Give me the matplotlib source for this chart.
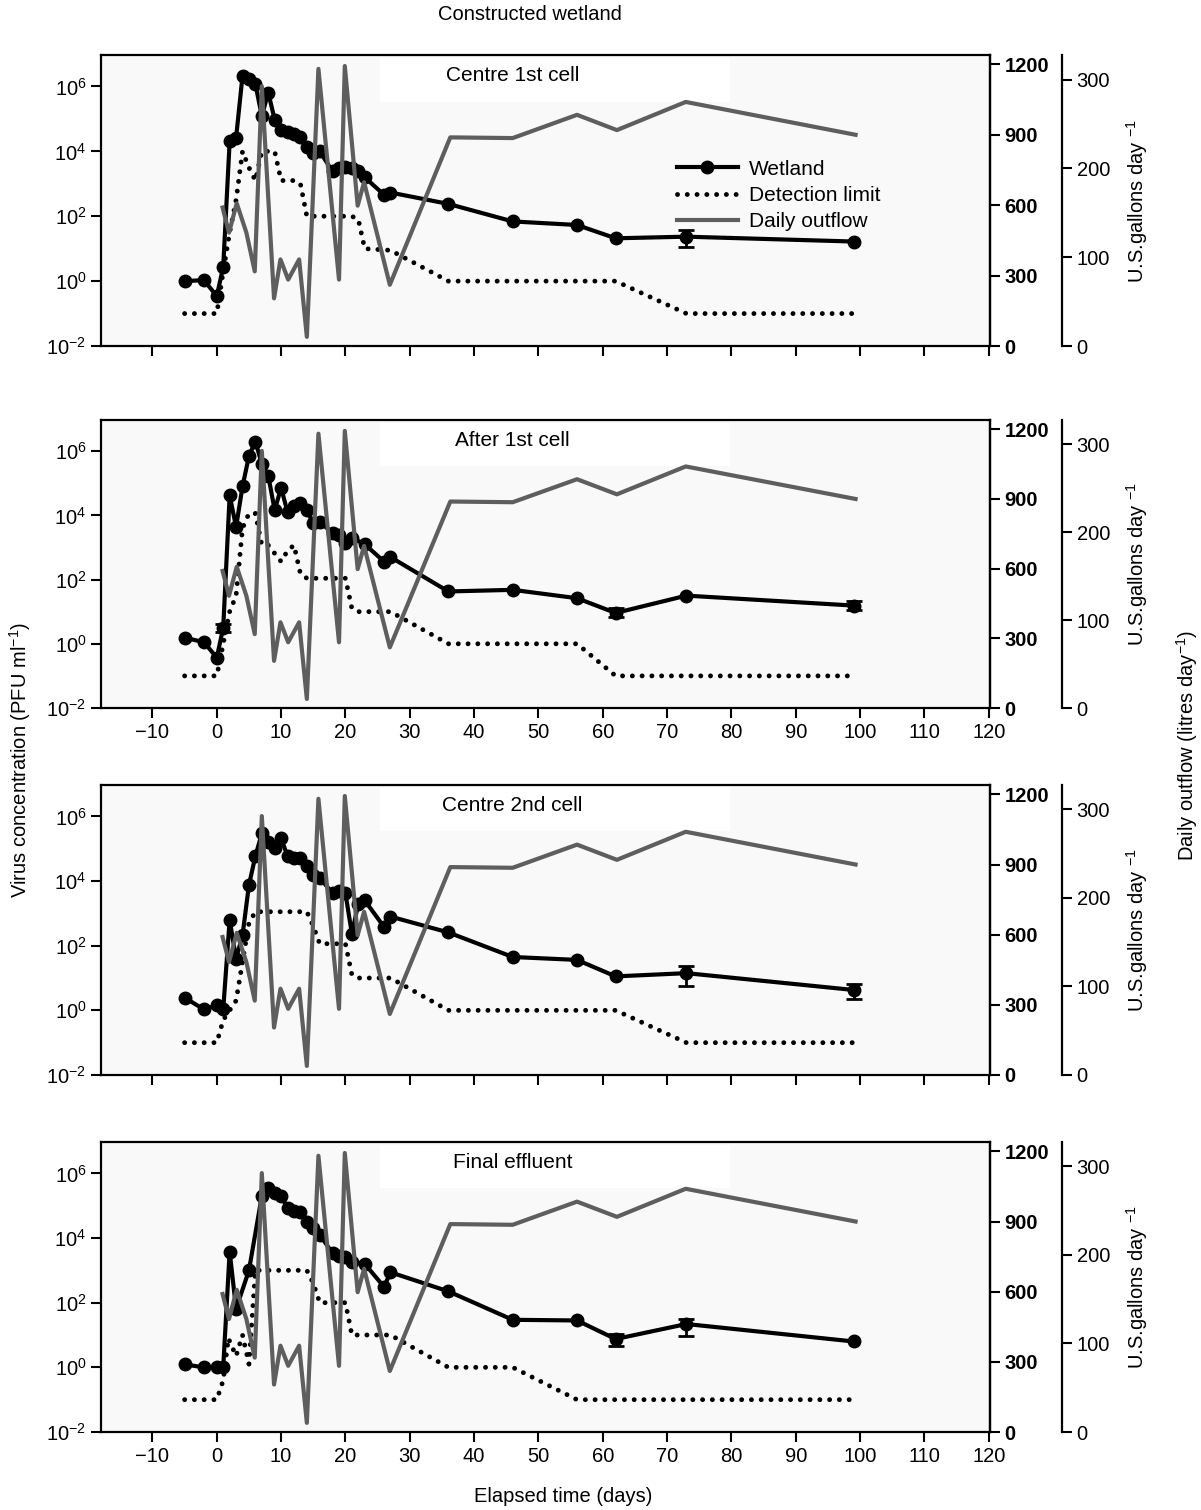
import matplotlib.pyplot as plt
from matplotlib.lines import Line2D
from matplotlib.patches import Rectangle
from matplotlib.ticker import FixedLocator, NullLocator
import numpy as np

plt.rcParams['font.family'] = ['Liberation Sans', 'DejaVu Sans']
plt.rcParams['mathtext.fontset'] = 'custom'
plt.rcParams['mathtext.rm'] = 'Liberation Sans'
plt.rcParams['mathtext.it'] = 'Liberation Sans:italic'
plt.rcParams['mathtext.bf'] = 'Liberation Sans:bold'

# ---- data (log10 PFU/ml for virus, litres/day for outflow) ----
panel_names = ['Centre 1st cell', 'After 1st cell', 'Centre 2nd cell', 'Final effluent']

flow_days = [0.9, 1.9, 3.1, 4.6, 5.9, 7.0, 8.9, 9.9, 11.1, 12.8, 14.0, 15.8,
             19.0, 19.9, 21.9, 22.9, 26.9, 36.3, 46, 56, 62.2, 72.9, 99.3]
flow_litres = [590, 483, 608, 483, 318, 1107, 203, 369, 283, 369, 39, 1181,
               283, 1193, 598, 698, 261, 889, 886, 985, 920, 1040, 900]

days_1 = [-5, -2, 0, 1, 2, 3, 4, 5, 6, 7, 8, 9, 10, 11, 12, 13, 14, 15, 16,
          18, 19, 20, 21, 22, 23, 26, 27, 36, 46, 56, 62, 73, 99]
log_1 = [0.0, 0.03, -0.46, 0.44, 4.31, 4.42, 6.33, 6.24, 6.07, 5.09, 5.81, 4.98,
         4.67, 4.59, 4.55, 4.45, 4.14, 3.96, 4.0, 3.38, 3.5, 3.52, 3.5, 3.4, 3.2,
         2.66, 2.73, 2.38, 1.84, 1.73, 1.32, 1.37, 1.22]

days_2 = [-5, -2, 0, 1, 2, 3, 4, 5, 6, 7, 8, 9, 10, 11, 12, 13, 14, 15, 16,
          18, 19, 20, 21, 23, 26, 27, 36, 46, 56, 62, 73, 99]
log_2 = [0.19, 0.05, -0.43, 0.5, 4.62, 3.64, 4.9, 5.85, 6.3, 5.6, 5.24, 4.16,
         4.86, 4.1, 4.3, 4.37, 4.16, 3.75, 3.8, 3.45, 3.4, 3.13, 3.3, 3.1,
         2.56, 2.7, 1.63, 1.68, 1.42, 0.96, 1.5, 1.19]

days_3 = [-5, -2, 0, 1, 2, 3, 4, 5, 6, 7, 8, 9, 10, 11, 12, 13, 14, 15, 16,
          18, 19, 20, 21, 22, 23, 26, 27, 36, 46, 56, 62, 73, 99]
log_3 = [0.39, 0.03, 0.15, 0.03, 2.8, 1.6, 2.32, 3.88, 4.77, 5.47, 5.2, 5.03,
         5.32, 4.77, 4.72, 4.7, 4.45, 4.2, 4.1, 3.62, 3.7, 3.62, 2.37, 3.3, 3.4,
         2.58, 2.9, 2.41, 1.65, 1.56, 1.05, 1.15, 0.63]

days_4 = [-5, -2, 0, 1, 2, 3, 5, 7, 8, 9, 10, 11, 12, 13, 14, 15, 16,
          18, 19, 20, 21, 23, 26, 27, 36, 46, 56, 62, 73, 99]
log_4 = [0.09, 0.0, 0.0, 0.0, 3.58, 1.81, 3.0, 5.3, 5.56, 5.4, 5.3, 4.94,
         4.85, 4.8, 4.5, 4.3, 4.1, 3.53, 3.45, 3.4, 3.27, 3.2, 2.49, 2.94,
         2.35, 1.47, 1.45, 0.875, 1.34, 0.8]

dl_days_1 = [-5, 0, 1, 2, 3, 4, 5, 6, 7, 9, 10, 12, 13, 14, 21, 22, 23, 27, 36, 62, 73, 99]
dl_log_1 = [-1, -1, 0.3, 1.5, 2.5, 4.0, 3.5, 3.1, 4.0, 4.0, 3.1, 3.1, 3.0, 2.0,
            2.0, 1.9, 1.0, 0.95, 0, 0, -1, -1]

dl_days_2 = [-5, 0, 1, 2, 3, 4, 5, 6, 7, 8, 10, 11, 12, 13, 14, 20, 21, 22, 27, 36, 56, 62, 99]
dl_log_2 = [-1, -1, 0.0, 1.0, 1.5, 3.6, 4.06, 4.06, 3.07, 3.07, 2.56, 2.9, 3.07,
            2.18, 2.04, 2.04, 1.1, 1.0, 1.0, 0, 0, -1, -1]

dl_days_3 = [-5, 0, 1, 2, 3, 4, 5, 6, 14, 15, 16, 20, 21, 22, 27, 36, 62, 73, 99]
dl_log_3 = [-1, -1, -0.3, 0.0, 0.3, 1.5, 2.7, 3.05, 3.05, 2.6, 2.06, 2.06, 1.1,
            1.0, 1.0, 0, 0, -1, -1]

dl_days_4 = [-5, 0, 1, 1.8, 3, 4, 5, 6, 14, 15, 16, 20, 21, 27, 36, 46, 56, 99]
dl_log_4 = [-1, -1, -0.4, 0.9, 0.35, 1.0, 0.1, 3.0, 3.0, 2.6, 2.0, 2.0, 1.0,
            1.0, 0, 0, -1, -1]

# error bars: day, low, high (log10)
err_days_1, err_lo_1, err_hi_1 = [73], [1.06], [1.58]
err_days_2, err_lo_2, err_hi_2 = [1, 62, 99], [0.38, 0.82, 1.05], [0.62, 1.1, 1.33]
err_days_3, err_lo_3, err_hi_3 = [73, 99], [0.74, 0.34], [1.37, 0.81]
err_days_4, err_lo_4, err_hi_4 = [62, 73], [0.67, 0.98], [1.03, 1.5]

panels = [
    (days_1, log_1, dl_days_1, dl_log_1, err_days_1, err_lo_1, err_hi_1),
    (days_2, log_2, dl_days_2, dl_log_2, err_days_2, err_lo_2, err_hi_2),
    (days_3, log_3, dl_days_3, dl_log_3, err_days_3, err_lo_3, err_hi_3),
    (days_4, log_4, dl_days_4, dl_log_4, err_days_4, err_lo_4, err_hi_4),
]

W, H = 1201, 1510
fig = plt.figure(figsize=(W / 100, H / 100), dpi=100)
fig.patch.set_facecolor('white')

panel_px = [(55, 346), (420, 708), (785, 1075), (1142, 1432)]
left_px, right_px = 101, 990
gal_per_litre = 1 / 3.785
gray = '#5e5e5e'
dotted = (0, (0.01, 2.0))
fs = 14.5

for i, (top, bot) in enumerate(panel_px):
    days, logv, dl_d, dl_l, e_d, e_lo, e_hi = panels[i]
    ax = fig.add_axes([left_px / W, 1 - bot / H, (right_px - left_px) / W, (bot - top) / H])
    ax.set_facecolor('#f9f9f9')
    ax.set_yscale('log')
    ax.set_xlim(-18, 120.2)
    ax.set_ylim(1e-2, 10 ** 6.97)
    ax.yaxis.set_major_locator(FixedLocator([1e-2, 1, 1e2, 1e4, 1e6]))
    ax.yaxis.set_minor_locator(NullLocator())
    ax.set_xticks(np.arange(-10, 121, 10))
    ax.tick_params(direction='out', length=7, width=1.5, labelsize=fs,
                   right=False, top=False)
    if i in (0, 2):
        ax.tick_params(labelbottom=False)
    for s in ax.spines.values():
        s.set_linewidth(1.6)

    # white box behind panel title
    ax.add_patch(Rectangle((0.314, 0.84), 0.394, 0.15, transform=ax.transAxes,
                           facecolor='white', edgecolor='none', zorder=0.5))
    ax.text(0.463, 0.928, panel_names[i], transform=ax.transAxes, ha='center',
            va='center', fontsize=15, zorder=5)

    ax.plot(dl_d, 10 ** np.array(dl_l), color='black', lw=3.5, linestyle=dotted,
            dash_capstyle='round', zorder=2)
    ax.plot(days, 10 ** np.array(logv), color='black', lw=3, marker='o', ms=9, zorder=3)
    mid = [10 ** logv[days.index(d)] for d in e_d]
    lo = [m - 10 ** l for m, l in zip(mid, e_lo)]
    hi = [10 ** h - m for m, h in zip(mid, e_hi)]
    ax.errorbar(e_d, mid, yerr=[lo, hi], fmt='none', ecolor='black', elinewidth=2,
                capsize=6, capthick=2, zorder=3)

    # litres axis
    ax2 = ax.twinx()
    ax2.set_ylim(0, 1240)
    ax2.set_yticks([0, 300, 600, 900, 1200])
    ax2.tick_params(direction='out', length=7, width=1.5, labelsize=fs)
    for lbl in ax2.get_yticklabels():
        lbl.set_fontweight('bold')
    for name in ('left', 'top', 'bottom'):
        ax2.spines[name].set_visible(False)
    ax2.spines['right'].set_linewidth(1.6)
    ax2.plot(flow_days, flow_litres, color=gray, lw=3, zorder=4)

    # US gallons axis
    ax3 = ax.twinx()
    ax3.spines['right'].set_position(('axes', (1062 - left_px) / (right_px - left_px)))
    for name in ('left', 'top', 'bottom'):
        ax3.spines[name].set_visible(False)
    ax3.spines['right'].set_linewidth(1.6)
    ax3.set_ylim(0, 1240 * gal_per_litre)
    ax3.set_yticks([0, 100, 200, 300])
    ax3.tick_params(direction='out', length=7, width=1.5, labelsize=fs)
    ax3.set_ylabel('U.S.gallons day $^{-1}$', fontsize=fs, labelpad=10)

    if i == 0:
        handles = [
            Line2D([], [], color='black', lw=3, marker='o', ms=9),
            Line2D([], [], color='black', lw=3.5, linestyle=dotted, dash_capstyle='round'),
            Line2D([], [], color=gray, lw=3),
        ]
        ax3.legend(handles, ['Wetland', 'Detection limit', 'Daily outflow'],
                   loc='upper left', bbox_to_anchor=(0.627, 0.705), frameon=False,
                   fontsize=15, handlelength=2.9, labelspacing=0.35,
                   handletextpad=0.55)

fig.text(530 / W, 1 - 15 / H, 'Constructed wetland', ha='center', va='center', fontsize=fs)
fig.text(20 / W, 1 - 760 / H, 'Virus concentration (PFU ml$^{-1}$)', rotation=90,
         ha='center', va='center', fontsize=fs)
fig.text(1187 / W, 1 - 745 / H, 'Daily outflow (litres day$^{-1}$)', rotation=90,
         ha='center', va='center', fontsize=fs)
fig.text(563 / W, 1 - 1497 / H, 'Elapsed time (days)', ha='center', va='center', fontsize=fs)

fig.savefig('out.png', dpi=100)
